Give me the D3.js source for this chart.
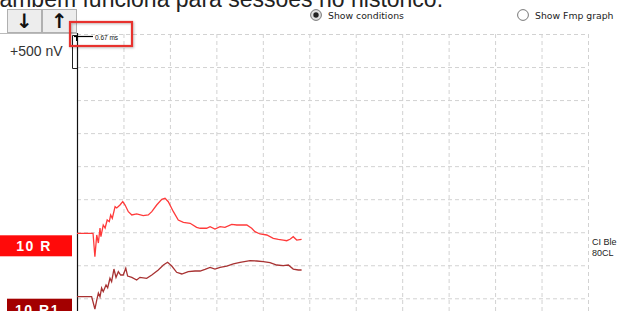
<!DOCTYPE html>
<html>
<head>
<meta charset="utf-8">
<script src="https://cdn.jsdelivr.net/npm/d3@7"></script>
<style>
  body { margin: 0; background: #fff; overflow: hidden; }
  svg { display: block; }
</style>
</head>
<body>
<div id="chart"></div>
<script>
// time in ms, amplitude in nV (relative to each trace baseline)
var timeR = [0, 0.69, 0.77, 0.85, 0.92, 0.99, 1.03, 1.13, 1.21, 1.30, 1.39, 1.45, 1.52, 1.64, 1.71, 1.85, 1.97, 2.07, 2.21, 2.36, 2.57, 2.85, 3.07, 3.22, 3.43, 3.65, 3.79, 3.93, 4.15, 4.36, 4.58, 4.87, 5.15, 5.30, 5.58, 5.73, 5.94, 6.16, 6.37, 6.66, 6.88, 7.31, 7.52, 7.66, 7.88, 8.17, 8.45, 8.67, 8.88, 9.03, 9.17, 9.31, 9.46, 9.67];
var valR = [0, 0, -344, -25, -143, 78, -50, 122, 78, 196, 171, 269, 221, 391, 372, 416, 465, 416, 318, 269, 284, 259, 269, 318, 416, 500, 515, 465, 318, 196, 162, 147, 88, 74, 74, 97, 63, 97, 88, 132, 122, 122, 74, 24, -10, -25, -74, -88, -99, -109, -88, -50, -99, -88];

var timeR1 = [0, 0.63, 0.77, 0.85, 0.92, 0.99, 1.06, 1.13, 1.25, 1.32, 1.42, 1.49, 1.59, 1.68, 1.78, 1.88, 1.99, 2.10, 2.18, 2.36, 2.57, 2.71, 3.00, 3.22, 3.50, 3.72, 3.90, 4.08, 4.29, 4.51, 4.79, 5.08, 5.30, 5.51, 5.73, 5.94, 6.16, 6.45, 6.73, 7.02, 7.45, 7.74, 8.02, 8.31, 8.60, 8.88, 9.10, 9.31, 9.53, 9.67];
var valR1 = [0, 0, -181, -49, 54, 0, 128, 74, 172, 132, 271, 221, 407, 285, 368, 319, 319, 418, 304, 285, 246, 285, 271, 319, 393, 466, 506, 451, 359, 334, 368, 378, 378, 403, 432, 407, 432, 451, 481, 506, 529, 525, 515, 500, 466, 456, 466, 407, 393, 393];

var traceNames = ["10 R", "10 R1"];
var timeTicks = d3.range(0, 23, 2);
var rowTicks = d3.range(0, 9);

var W = 619, H = 311;
var svg = d3.select("#chart").append("svg").attr("width", W).attr("height", H);

var x = d3.scaleLinear().domain([0, 22]).range([77, 588]);
var row = d3.scaleLinear().domain([0, 8]).range([34, 298.3]);
var amp = d3.scaleLinear().domain([0, 500]).range([0, 34]);
var baselines = [233.3, 296.7];

// caption text cut off at top
svg.append("text")
  .attr("x", -7).attr("y", 7)
  .style("font-family", "Liberation Sans, Arial, sans-serif")
  .style("font-size", "23px")
  .style("fill", "#222")
  .text("também funciona para sessões no histórico.");

// grid
var gx = svg.append("g").attr("transform", "translate(0," + H + ")")
  .call(d3.axisBottom(x).tickValues(timeTicks.slice(1)).tickSize(-(H - 34)).tickFormat(""));
var gy = svg.append("g").attr("transform", "translate(77,0)")
  .call(d3.axisLeft(row).tickValues(rowTicks).tickSize(-(588 - 77)).tickFormat(""));
[gx, gy].forEach(function (g) {
  g.select(".domain").remove();
  g.selectAll("line").attr("stroke", "#d2d2d2").attr("stroke-dasharray", "4,3");
});

// buttons
var btns = [{ x0: 7, x1: 41, s: "↓" }, { x0: 42, x1: 76, s: "↑" }];
btns.forEach(function (b) {
  svg.append("rect").attr("x", b.x0 + 0.5).attr("y", 9.5).attr("width", b.x1 - b.x0).attr("height", 23)
    .attr("fill", "#ededed").attr("stroke", "#b0b0b0");
  svg.append("text").attr("x", (b.x0 + b.x1) / 2 + 0.5).attr("y", 28)
    .attr("text-anchor", "middle")
    .style("font-family", "DejaVu Sans, sans-serif").style("font-size", "20px").style("font-weight", "bold")
    .style("fill", "#111").text(b.s);
});
svg.append("line").attr("x1", 0).attr("x2", 77).attr("y1", 33.5).attr("y2", 33.5).attr("stroke", "#bbb");

// axis line
svg.append("line").attr("x1", 77.5).attr("x2", 77.5).attr("y1", 33).attr("y2", H).attr("stroke", "#111").attr("stroke-width", 1.2);

// scale bracket
svg.append("path").attr("d", "M77,35.5 H72.5 V68.5 H77").attr("fill", "none").attr("stroke", "#222");
svg.append("text").attr("x", 10).attr("y", 56)
  .style("font-family", "Liberation Sans, Arial, sans-serif").style("font-size", "14px").style("fill", "#333")
  .text("+500 nV");

// latency marker
svg.append("line").attr("x1", 74).attr("x2", 93).attr("y1", 36.5).attr("y2", 36.5).attr("stroke", "#000").attr("stroke-width", 1.2);
svg.append("line").attr("x1", 76.5).attr("x2", 76.5).attr("y1", 36).attr("y2", 41).attr("stroke", "#000");
svg.append("text").attr("x", 95).attr("y", 40)
  .style("font-family", "Liberation Sans, Arial, sans-serif").style("font-size", "6.5px").style("fill", "#111")
  .text("0.67 ms");

// highlight box
svg.append("rect").attr("x", 70).attr("y", 22).attr("width", 62).attr("height", 24)
  .attr("fill", "none").attr("stroke", "#e8322e").attr("stroke-width", 2.2)
  .style("filter", "drop-shadow(1px 1px 1px rgba(0,0,0,0.25))");

// radio buttons
function radio(cx, label, on) {
  svg.append("circle").attr("cx", cx).attr("cy", 15).attr("r", 5.4)
    .attr("fill", on ? "#e0e0e0" : "#fff").attr("stroke", "#777").attr("stroke-width", 1);
  if (on) svg.append("circle").attr("cx", cx).attr("cy", 15).attr("r", 2.7).attr("fill", "#222");
  svg.append("text").attr("x", cx + 12).attr("y", 18.5)
    .style("font-family", "DejaVu Sans, sans-serif").style("font-size", "9.3px").style("fill", "#222")
    .text(label);
}
radio(316, "Show conditions", true);
radio(523, "Show Fmp graph", false);

// traces
var traces = [
  { t: timeR, v: valR, color: "#ff3a3a", box: "#ff0a0a", bx: 0 },
  { t: timeR1, v: valR1, color: "#a83232", box: "#a30000", bx: 7 }
];
traces.forEach(function (tr, i) {
  var pts = tr.t.map(function (t, k) { return [t, tr.v[k]]; });
  var line = d3.line()
    .x(function (d) { return x(d[0]); })
    .y(function (d) { return baselines[i] - amp(d[1]); });
  svg.append("path").datum(pts).attr("d", line)
    .attr("fill", "none").attr("stroke", tr.color).attr("stroke-width", 1.3);

  svg.append("rect").attr("x", tr.bx).attr("y", baselines[i] + 2).attr("width", 72 - tr.bx).attr("height", 21)
    .attr("fill", tr.box);
  svg.append("text").attr("x", (tr.bx + 72) / 2 - 2).attr("y", baselines[i] + 18)
    .attr("text-anchor", "middle")
    .style("font-family", "Liberation Sans, Arial, sans-serif").style("font-size", "14px")
    .style("font-weight", "bold").style("letter-spacing", "1.5px").style("fill", "#fff")
    .text(traceNames[i]);
});

// condition labels on right
svg.append("text").attr("x", 592).attr("y", 245)
  .style("font-family", "Liberation Sans, Arial, sans-serif").style("font-size", "9px").style("fill", "#222")
  .text("CI Ble");
svg.append("text").attr("x", 592).attr("y", 256)
  .style("font-family", "Liberation Sans, Arial, sans-serif").style("font-size", "9px").style("fill", "#222")
  .text("80CL");
</script>
</body>
</html>
